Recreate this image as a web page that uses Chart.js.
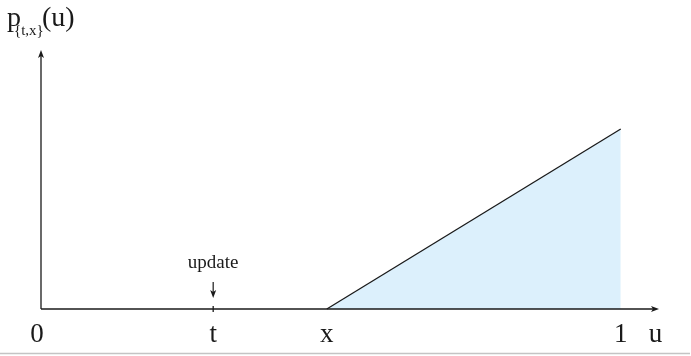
<!DOCTYPE html>
<html>
<head>
<meta charset="utf-8">
<script src="https://cdn.jsdelivr.net/npm/chart.js@4/dist/chart.umd.min.js"></script>
<style>
  html, body { margin: 0; padding: 0; background: #fff; }
  #wrap { width: 691px; height: 356px; position: relative; }
</style>
</head>
<body>
<div id="wrap"><canvas id="c" width="691" height="356"></canvas></div>
<script>
// Density p_{t,x}(u): zero up to x, then rising linearly to u = 1
const tickLabels = ['0', 't', 'x', '1'];
const tickValues = [0, 0.297, 0.493, 1];
const rampU = [0.493, 1];
const rampP = [0, 0.695];
const updateAt = 0.297;          // where the "update" arrow points
const axisEndU = 1.066;          // tip of the u-axis arrow
const axisEndP = 1;              // tip of the p-axis arrow

const SERIF = '"Liberation Serif", "Times New Roman", serif';
const INK = '#1a1a1a';

function arrowHead(ctx, x, y, dir) {
  // dir: 'right', 'up', 'down'
  ctx.beginPath();
  if (dir === 'right') {
    ctx.moveTo(x, y); ctx.lineTo(x - 8, y - 3); ctx.lineTo(x - 6, y); ctx.lineTo(x - 8, y + 3);
  } else if (dir === 'up') {
    ctx.moveTo(x, y); ctx.lineTo(x - 3, y + 8); ctx.lineTo(x, y + 6); ctx.lineTo(x + 3, y + 8);
  } else {
    ctx.moveTo(x, y); ctx.lineTo(x - 3, y - 8); ctx.lineTo(x, y - 6); ctx.lineTo(x + 3, y - 8);
  }
  ctx.closePath();
  ctx.fill();
}

const axesPlugin = {
  id: 'axesPlugin',
  afterDatasetsDraw(chart) {
    const ctx = chart.ctx;
    const xs = chart.scales.x, ys = chart.scales.y;
    const x0 = xs.getPixelForValue(0), y0 = ys.getPixelForValue(0);
    const xEnd = xs.getPixelForValue(axisEndU), yEnd = ys.getPixelForValue(axisEndP);
    ctx.save();
    ctx.strokeStyle = INK; ctx.fillStyle = INK; ctx.lineWidth = 1.3;
    // u axis
    ctx.beginPath(); ctx.moveTo(x0, y0); ctx.lineTo(xEnd - 5, y0); ctx.stroke();
    arrowHead(ctx, xEnd, y0, 'right');
    // p axis
    ctx.beginPath(); ctx.moveTo(x0, y0); ctx.lineTo(x0, yEnd + 5); ctx.stroke();
    arrowHead(ctx, x0, yEnd, 'up');
    // small tick + "update" arrow
    const xu = xs.getPixelForValue(updateAt);
    ctx.beginPath(); ctx.moveTo(xu, y0 - 3); ctx.lineTo(xu, y0 + 3); ctx.stroke();
    ctx.lineWidth = 1.2;
    ctx.beginPath(); ctx.moveTo(xu, y0 - 27); ctx.lineTo(xu, y0 - 16); ctx.stroke();
    arrowHead(ctx, xu, y0 - 11, 'down');
    ctx.font = '19px ' + SERIF;
    ctx.textAlign = 'center'; ctx.textBaseline = 'alphabetic';
    ctx.fillText('update', xu, y0 - 41);
    // tick labels
    ctx.font = '27px ' + SERIF;
    tickLabels.forEach((t, i) => {
      ctx.fillText(t, xs.getPixelForValue(tickValues[i]) - (i === 0 ? 4 : 0), y0 + 33);
    });
    ctx.fillText('u', xs.getPixelForValue(1.06), y0 + 33);
    // axis title p_{t,x}(u)
    ctx.textAlign = 'left';
    ctx.font = '28px ' + SERIF;
    ctx.fillText('p', 7, 26);
    ctx.fillText('(u)', 42, 26);
    ctx.font = '15px ' + SERIF;
    ctx.fillText('{t,x}', 14, 35);
    // thin rule along the bottom
    ctx.strokeStyle = '#c4c4c4'; ctx.lineWidth = 1.5;
    ctx.beginPath(); ctx.moveTo(0, 353.5); ctx.lineTo(690, 353.5); ctx.stroke();
    ctx.restore();
  }
};

new Chart(document.getElementById('c'), {
  type: 'line',
  data: {
    datasets: [{
      data: rampU.map((u, i) => ({ x: u, y: rampP[i] })),
      borderColor: INK,
      borderWidth: 1.3,
      backgroundColor: 'rgba(220, 240, 252, 1)',
      fill: 'origin',
      pointRadius: 0,
      tension: 0
    }]
  },
  options: {
    responsive: false,
    animation: false,
    events: [],
    clip: false,
    layout: { padding: { left: 41, right: 691 - 659, top: 50, bottom: 356 - 309 } },
    plugins: { legend: { display: false }, tooltip: { enabled: false }, title: { display: false } },
    scales: {
      x: { type: 'linear', min: 0, max: axisEndU, display: false },
      y: { type: 'linear', min: 0, max: axisEndP, display: false }
    }
  },
  plugins: [axesPlugin]
});
</script>
</body>
</html>
